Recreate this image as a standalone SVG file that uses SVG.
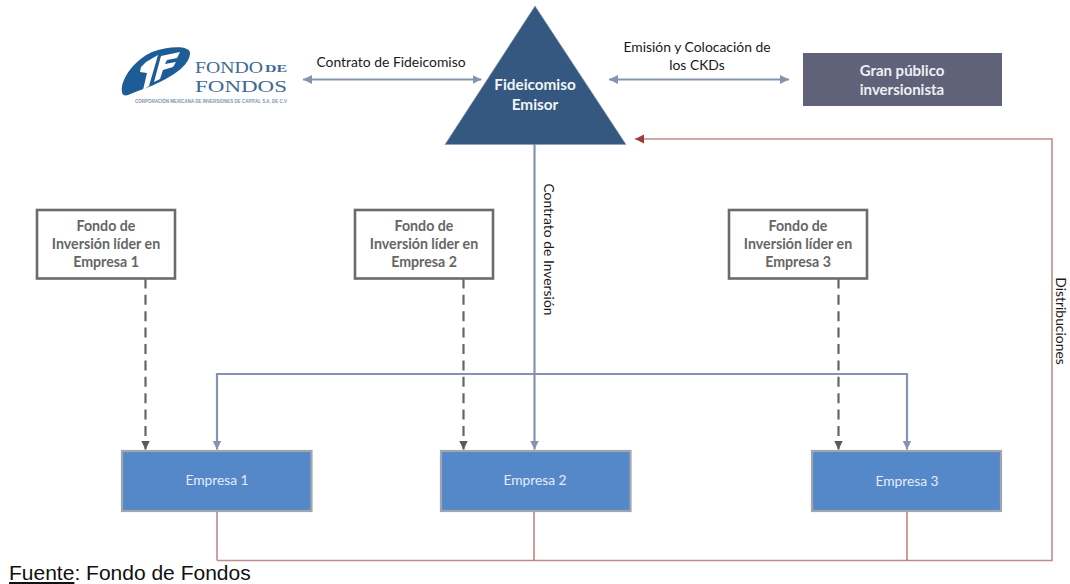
<svg xmlns="http://www.w3.org/2000/svg" width="1070" height="584" viewBox="0 0 1070 584">
<style>
text{font-family:"Lato","Open Sans","Liberation Sans",sans-serif;text-anchor:middle}
.lbl{font-size:13.9px;fill:#1a1a1a}
.fund rect{fill:#fff;stroke:#6b6b6b;stroke-width:2.6}
.fund text{font-size:14.200px;font-weight:700;fill:#666}
.co rect{fill:#5588c9;stroke:#9fa6ae;stroke-width:2.2}
.co text{font-size:13.800px;fill:#e3ecf8}
.blue{fill:none;stroke:#8593b0;stroke-width:2.2}
.dash{fill:none;stroke:#666;stroke-width:2.2;stroke-dasharray:10 6.400;stroke-dashoffset:0.600}
.red{fill:none;stroke:#c48a8a;stroke-width:1.6}
.red2{fill:none;stroke:#b05a5a;stroke-width:1.2}
.logo{font-family:"Liberation Serif",serif;fill:#3f6a94}
</style>
<defs>
<marker id="ab" markerUnits="userSpaceOnUse" markerWidth="10" markerHeight="10" refX="9" refY="4.500" orient="auto-start-reverse"><path d="M0,0L9,4.500L0,9z" fill="#8593b0"/></marker>
<marker id="ad" markerUnits="userSpaceOnUse" markerWidth="10" markerHeight="10" refX="9" refY="4.500" orient="auto"><path d="M0,0L9,4.500L0,9z" fill="#5a5a5a"/></marker>
<marker id="ar" markerUnits="userSpaceOnUse" markerWidth="10" markerHeight="10" refX="9" refY="4.500" orient="auto"><path d="M0,0L9,4.500L0,9z" fill="#a33a3a"/></marker>
</defs>
<g id="connectors">
<path class="blue" d="M303,79.500H481.500" marker-start="url(#ab)" marker-end="url(#ab)"/>
<path class="blue" d="M609,79.500H789" marker-start="url(#ab)" marker-end="url(#ab)"/>
<path class="blue" d="M534.500,144V449.500" marker-end="url(#ab)"/>
<path class="blue" d="M217,449.500V374H907V449.500" marker-start="url(#ab)" marker-end="url(#ab)"/>
<path class="dash" d="M145.500,279V449.500" marker-end="url(#ad)"/>
<path class="dash" d="M463.500,279V449.500" marker-end="url(#ad)"/>
<path class="dash" d="M838.500,279V449.500" marker-end="url(#ad)"/>
<path class="red" d="M217,560.500H1052V139H635" marker-end="url(#ar)"/>
<path class="red" d="M217,511V560.500"/>
<path class="red2" d="M534,511V560.500"/>
<path class="red2" d="M907,511V560.500"/>
</g>
<g id="logo">
<path d="M122,92C120,80 134,60 152,52C168,46 190,45 190,53C190,64 176,74 160,82C150,87 140,90 128,95C125,96 122,95 122,92Z" fill="#1d5c96"/>
<path d="M141,67L146,62L158,55L149,86L143,90L147,73L140,72Z" fill="#fff"/>
<path d="M161,56L180,52L177,58L167,60L165,64L176,62L173,67L163,70L160,79L154,82Z" fill="#fff"/>
<text class="logo" x="229" y="72.500" font-size="17.500" textLength="68" lengthAdjust="spacingAndGlyphs">FONDO</text>
<text class="logo" x="276" y="72" font-size="10" font-weight="700" textLength="22" lengthAdjust="spacingAndGlyphs">DE</text>
<text class="logo" x="241" y="92" font-size="17.500" textLength="92" lengthAdjust="spacingAndGlyphs">FONDOS</text>
<text x="211" y="103" font-size="4.500" font-weight="700" textLength="152" lengthAdjust="spacingAndGlyphs" style="font-family:'Liberation Sans',sans-serif;fill:#7f93b2">CORPORACIÓN MEXICANA DE INVERSIONES DE CAPITAL S.A. DE C.V</text>
</g>
<g id="emisor">
<path d="M535,6L626,144.500H445Z" fill="#34587f" stroke="#8a9bb0" stroke-width=".6"/>
<text x="535" y="90" font-size="15.300" font-weight="700" fill="#f2f4f7">Fideicomiso</text>
<text x="535" y="110" font-size="15.300" font-weight="700" fill="#f2f4f7">Emisor</text>
</g>
<g id="gran-publico">
<rect x="803" y="53" width="199" height="53" fill="#5f6279"/>
<text x="902" y="76" font-size="15" font-weight="700" fill="#eef0f4">Gran público</text>
<text x="902" y="95" font-size="15" font-weight="700" fill="#eef0f4">inversionista</text>
</g>
<g id="fondo1" class="fund">
<rect x="37" y="210" width="138" height="68.500"/>
<text x="106" y="231">Fondo de</text><text x="106" y="249">Inversión líder en</text><text x="106" y="267">Empresa 1</text>
</g>
<g id="fondo2" class="fund">
<rect x="355" y="210" width="138" height="68.500"/>
<text x="424" y="231">Fondo de</text><text x="424" y="249">Inversión líder en</text><text x="424" y="267">Empresa 2</text>
</g>
<g id="fondo3" class="fund">
<rect x="729" y="210" width="138" height="68.500"/>
<text x="798" y="231">Fondo de</text><text x="798" y="249">Inversión líder en</text><text x="798" y="267">Empresa 3</text>
</g>
<g id="empresa1" class="co">
<rect x="122" y="451" width="189.500" height="60"/>
<text x="217" y="485">Empresa 1</text>
</g>
<g id="empresa2" class="co">
<rect x="441" y="451" width="189.500" height="60"/>
<text x="535" y="485">Empresa 2</text>
</g>
<g id="empresa3" class="co">
<rect x="812" y="451" width="189" height="60"/>
<text x="907" y="486">Empresa 3</text>
</g>
<g id="labels">
<text class="lbl" x="391" y="67">Contrato de Fideicomiso</text>
<text class="lbl" x="697" y="52">Emisión y Colocación de</text>
<text class="lbl" x="697" y="70">los CKDs</text>
<text class="lbl" transform="translate(544,249.500) rotate(90)">Contrato de Inversión</text>
<text class="lbl" transform="translate(1056,321) rotate(90)">Distribuciones</text>
<text x="9" y="580" font-size="21" style="font-family:'Liberation Sans',sans-serif;text-anchor:start;fill:#111"><tspan text-decoration="underline">Fuente</tspan>: Fondo de Fondos</text>
</g>
</svg>
